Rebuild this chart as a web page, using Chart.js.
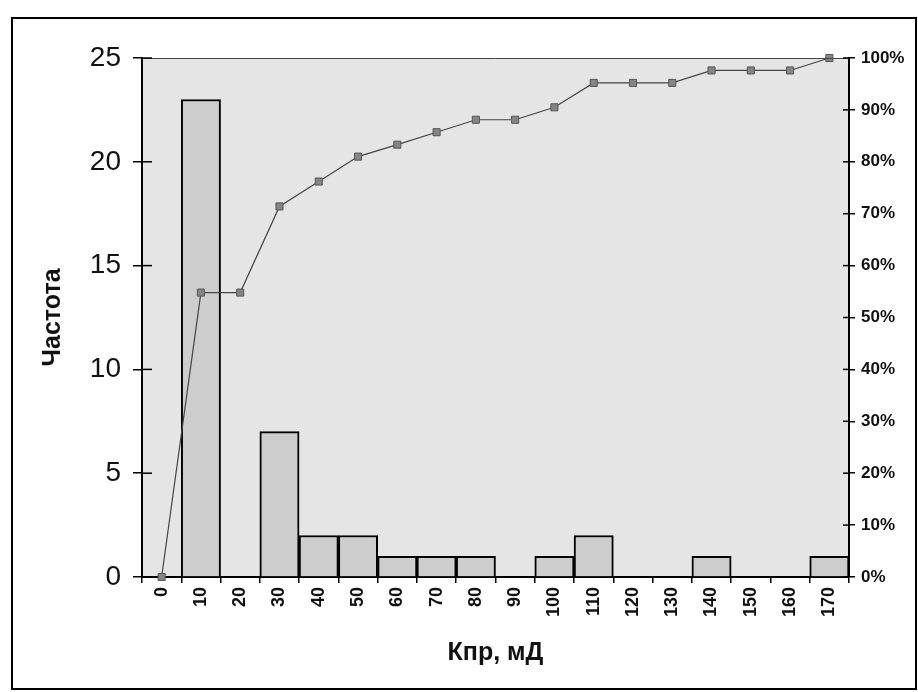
<!DOCTYPE html>
<html>
<head>
<meta charset="utf-8">
<script src="https://cdn.jsdelivr.net/npm/chart.js@4"></script>
<style>
  html, body { margin: 0; padding: 0; background: #fff; }
  #wrap { width: 918px; height: 692px; }
</style>
</head>
<body>
<div id="wrap"><canvas id="histChart" width="918" height="692"></canvas></div>
<script>
// категории (Кпр, мД)
const categories = ['0', '10', '20', '30', '40', '50', '60', '70', '80', '90',
                    '100', '110', '120', '130', '140', '150', '160', '170'];
// частота
const frequency = [0, 23, 0, 7, 2, 2, 1, 1, 1, 0, 1, 2, 0, 0, 1, 0, 0, 1];
// интегральный %
const cumulative = [0, 54.8, 54.8, 71.4, 76.2, 81.0, 83.3, 85.7, 88.1, 88.1,
                    90.5, 95.2, 95.2, 95.2, 97.6, 97.6, 97.6, 100];

const FONT = '"Liberation Sans", Arial, sans-serif';

// фон, рамка и короткие внутренние риски осей
const decor = {
    id: 'decor',
    beforeDraw(chart) {
        const ctx = chart.ctx;
        const a = chart.chartArea;
        ctx.save();
        ctx.fillStyle = '#fff';
        ctx.fillRect(0, 0, chart.width, chart.height);
        ctx.fillStyle = '#e5e5e5';
        ctx.fillRect(a.left, a.top, a.right - a.left, a.bottom - a.top);
        ctx.strokeStyle = '#000';
        ctx.lineWidth = 2;
        ctx.strokeRect(12, 18, 904, 671);
        ctx.restore();
    },
    afterDraw(chart) {
        const ctx = chart.ctx;
        const a = chart.chartArea;
        ctx.save();
        ctx.strokeStyle = '#444';
        ctx.lineWidth = 1;
        ctx.beginPath();
        ctx.moveTo(a.left, a.top + 0.5);
        ctx.lineTo(a.right, a.top + 0.5);
        ctx.stroke();
        ctx.strokeStyle = '#000';
        ctx.lineWidth = 1.5;
        const y = chart.scales.y;
        y.ticks.forEach(t => {
            const py = y.getPixelForValue(t.value);
            ctx.beginPath();
            ctx.moveTo(a.left, py);
            ctx.lineTo(a.left + 10, py);
            ctx.stroke();
        });
        const y1 = chart.scales.y1;
        y1.ticks.forEach(t => {
            const py = y1.getPixelForValue(t.value);
            ctx.beginPath();
            ctx.moveTo(a.right - 6, py);
            ctx.lineTo(a.right, py);
            ctx.stroke();
        });
        ctx.restore();
    }
};

new Chart(document.getElementById('histChart'), {
    type: 'bar',
    data: {
        labels: categories,
        datasets: [
            {
                type: 'line',
                label: 'Интегральный %',
                data: cumulative,
                yAxisID: 'y1',
                borderColor: '#444',
                borderWidth: 1.2,
                pointStyle: 'rect',
                pointRadius: 5,
                pointBackgroundColor: '#858585',
                pointBorderColor: '#555',
                pointBorderWidth: 1,
                tension: 0,
                clip: false,
                order: 0
            },
            {
                label: 'Частота',
                data: frequency,
                yAxisID: 'y',
                backgroundColor: '#cdcdcd',
                borderColor: '#000',
                borderWidth: 2,
                barPercentage: 1,
                categoryPercentage: 1,
                order: 1
            }
        ]
    },
    options: {
        responsive: false,
        animation: false,
        layout: { padding: { left: 0, right: 0, top: 58, bottom: 0 } },
        plugins: {
            legend: { display: false },
            tooltip: { enabled: false }
        },
        scales: {
            x: {
                offset: true,
                afterFit: s => { s.height = 115; },
                border: { display: true, color: '#000', width: 2 },
                grid: { display: true, drawOnChartArea: false, drawTicks: true, tickLength: 6, color: '#000', lineWidth: 1.5, offset: true },
                ticks: {
                    color: '#111', minRotation: 90, maxRotation: 90, padding: 4, autoSkip: false,
                    font: { family: FONT, size: 18, weight: 'bold' }
                },
                title: {
                    display: true, text: 'Кпр, мД', color: '#111',
                    font: { family: FONT, size: 25, weight: 'bold' },
                    padding: { top: 0, bottom: 24 }
                }
            },
            y: {
                position: 'left',
                min: 0, max: 25,
                afterFit: s => { s.width = 142; },
                border: { display: true, color: '#000', width: 2 },
                grid: { display: true, drawOnChartArea: false, drawTicks: true, tickLength: 9, color: '#000', lineWidth: 1.5 },
                ticks: {
                    stepSize: 5, color: '#111', padding: 12,
                    font: { family: FONT, size: 28 }
                },
                title: {
                    display: true, text: 'Частота', color: '#111',
                    font: { family: FONT, size: 25, weight: 'bold' },
                    padding: { top: 38, bottom: 0 }
                }
            },
            y1: {
                position: 'right',
                min: 0, max: 100,
                afterFit: s => { s.width = 69; },
                border: { display: true, color: '#000', width: 2 },
                grid: { display: true, drawOnChartArea: false, drawTicks: true, tickLength: 6, color: '#000', lineWidth: 1.5 },
                ticks: {
                    stepSize: 10, color: '#111', padding: 6,
                    callback: v => v + '%',
                    font: { family: FONT, size: 17, weight: 'bold' }
                }
            }
        }
    },
    plugins: [decor]
});
</script>
</body>
</html>
